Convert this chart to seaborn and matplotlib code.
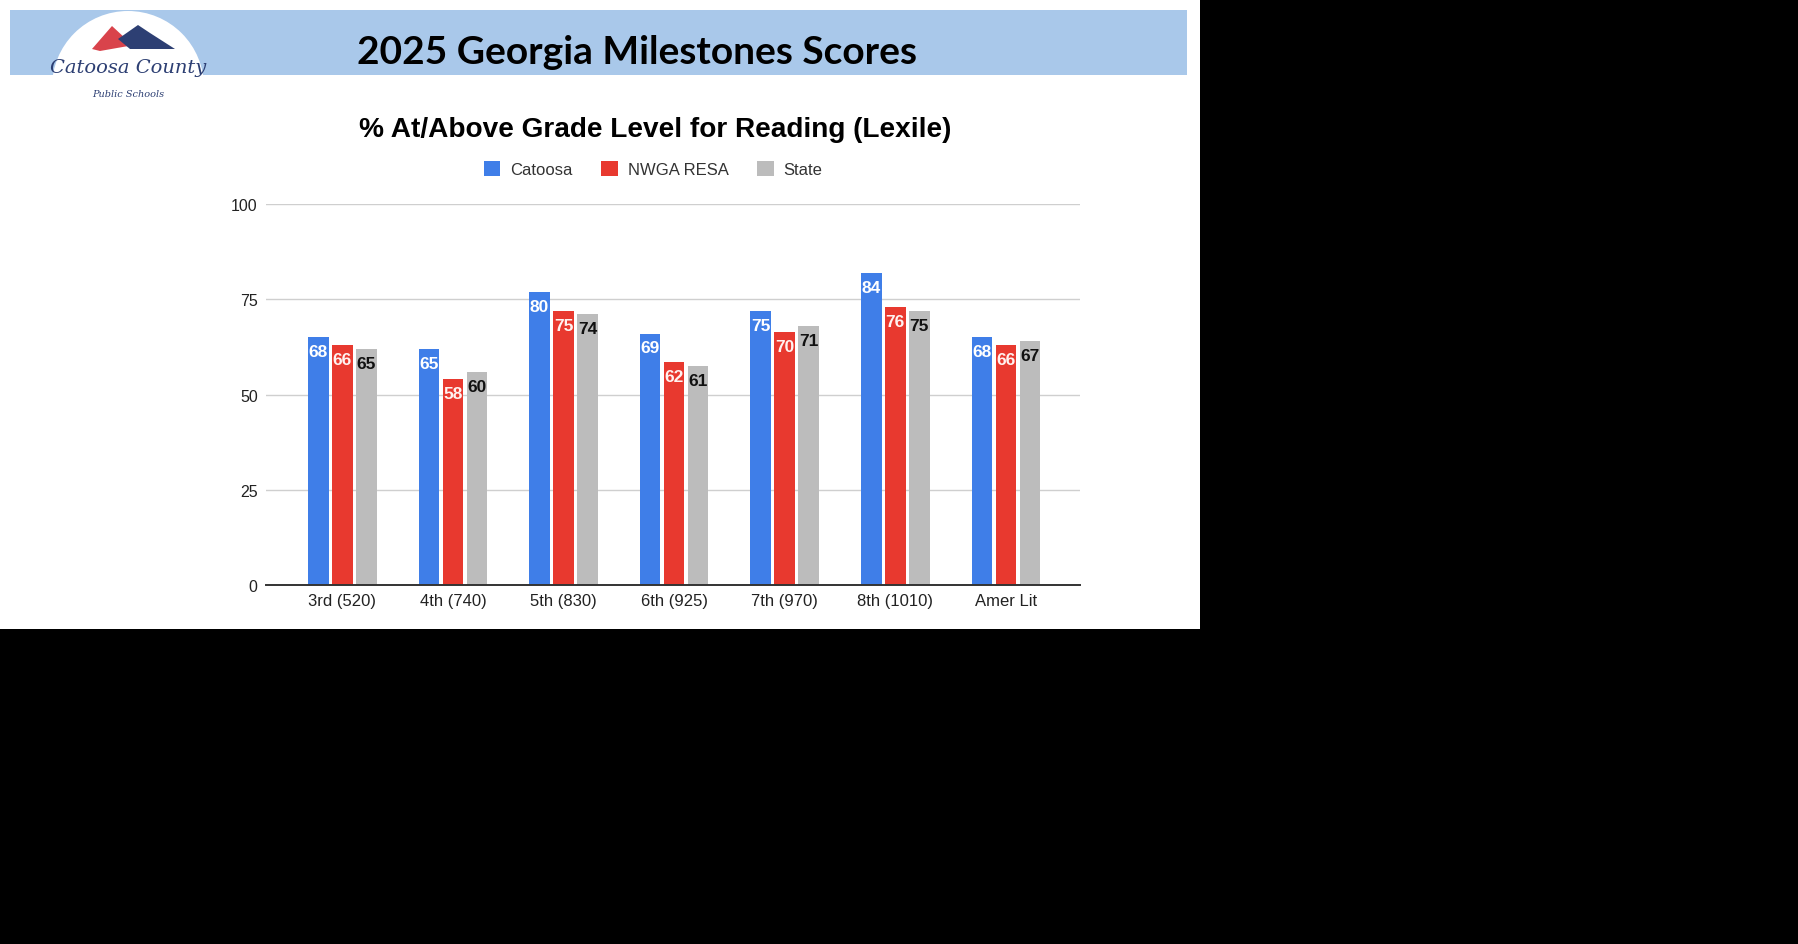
import numpy as np
import pandas as pd
import matplotlib
matplotlib.use("Agg")
import matplotlib.pyplot as plt
import seaborn as sns
from matplotlib.patches import Rectangle, Ellipse, Polygon

# data
grades = ["3rd (520)", "4th (740)", "5th (830)", "6th (925)", "7th (970)", "8th (1010)", "Amer Lit"]
groups = ["Catoosa", "NWGA RESA", "State"]
# bar heights as drawn
catoosa = [65, 62, 77, 66, 72, 82, 65]
nwga = [63, 54, 72, 58.5, 66.5, 73, 63]
state = [62, 56, 71, 57.5, 68, 72, 64]
# numbers printed on the bars
catoosa_lbl = [68, 65, 80, 69, 75, 84, 68]
nwga_lbl = [66, 58, 75, 62, 70, 76, 66]
state_lbl = [65, 60, 74, 61, 71, 75, 67]

colors = ["#3f7ee8", "#e8392f", "#bcbcbc"]
label_colors = ["white", "#fff2f0", "#111111"]

df = pd.DataFrame({
    "grade": grades * 3,
    "group": [g for g in groups for _ in grades],
    "value": catoosa + nwga + state,
})

W, H = 1799, 945
fig = plt.figure(figsize=(W / 100, H / 100), dpi=100, facecolor="black")
plt.rcParams["font.family"] = ["Liberation Sans", "DejaVu Sans"]


def fx(x):
    return x / W


def fy(y):
    return 1 - y / H


# slide background + header band
fig.add_artist(Rectangle((0, fy(630)), fx(1200), 630 / H, transform=fig.transFigure,
                         facecolor="white", edgecolor="none", zorder=-10))
fig.add_artist(Rectangle((fx(10), fy(76)), fx(1177), 65 / H, transform=fig.transFigure,
                         facecolor="#a9c8ea", edgecolor="none", zorder=-9))
fig.text(fx(637), fy(52), "2025 Georgia Milestones Scores", ha="center", va="center",
         fontsize=28, fontweight="bold", family=["Lato", "DejaVu Sans"], color="black")

# logo (rough)
fig.add_artist(Ellipse((fx(128), fy(88)), fx(152), 152 / H, transform=fig.transFigure,
                       facecolor="white", edgecolor="none", zorder=-8))
pts_red = [(92, 50), (112, 27), (126, 40), (134, 46), (100, 52)]
pts_navy = [(118, 40), (138, 26), (150, 34), (175, 50), (130, 50)]
for pts, c in [(pts_red, "#d9434b"), (pts_navy, "#2d3f73")]:
    fig.add_artist(Polygon([(fx(a), fy(b)) for a, b in pts], closed=True,
                           transform=fig.transFigure, facecolor=c, edgecolor="none"))
fig.text(fx(128), fy(68), "Catoosa County", ha="center", va="center", fontsize=14,
         style="italic", color="#2d3f73", family=["DejaVu Serif"])
fig.text(fx(128), fy(95), "Public Schools", ha="center", va="center", fontsize=7,
         style="italic", color="#2d3f73", family=["DejaVu Serif"])

# chart
ax = fig.add_axes([fx(266), fy(586), (1080 - 266) / W, (586 - 205) / H])
ax.set_facecolor("none")
sns.barplot(data=df, x="grade", y="value", hue="group", palette=colors,
            width=0.65, gap=0.14, saturation=1, legend=False, ax=ax, zorder=3)

for cont, lbls, lc in zip(ax.containers, [catoosa_lbl, nwga_lbl, state_lbl], label_colors):
    for bar, lb in zip(cont, lbls):
        ax.annotate(str(lb), (bar.get_x() + bar.get_width() / 2, bar.get_height()),
                    xytext=(0, -5), textcoords="offset points", ha="center", va="top",
                    fontsize=12.5, fontweight="bold", color=lc, zorder=5)

ax.set_xlim(-0.69, 6.67)
ax.set_ylim(0, 100)
ax.set_yticks([0, 25, 50, 75, 100])
ax.yaxis.grid(True, color="#cfcfcf", linewidth=1)
ax.set_axisbelow(True)
for s in ["top", "right", "left"]:
    ax.spines[s].set_visible(False)
ax.spines["bottom"].set_color("#333333")
ax.spines["bottom"].set_linewidth(1.4)
ax.spines["bottom"].set_zorder(4)
ax.tick_params(axis="y", length=0, pad=6, labelsize=11.5, labelcolor="#222222")
ax.tick_params(axis="x", length=0, pad=6, labelsize=12, labelcolor="#222222")
ax.set_xlabel("")
ax.set_ylabel("")

fig.text(fx(655), fy(130), "% At/Above Grade Level for Reading (Lexile)", ha="center",
         va="center", fontsize=20.2, fontweight="bold", color="black")

handles = [Rectangle((0, 0), 1, 1, facecolor=c) for c in colors]
fig.legend(handles, groups, loc="center", bbox_to_anchor=(fx(653), fy(170)), ncol=3,
           frameon=False, handlelength=1.0, handleheight=1.0, handletextpad=0.6,
           columnspacing=1.7, fontsize=12, labelcolor="#333333")

fig.savefig("out.png", dpi=100, facecolor=fig.get_facecolor())
